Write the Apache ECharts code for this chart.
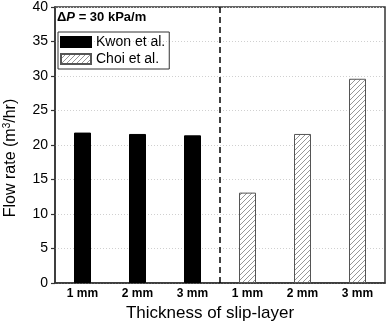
<!DOCTYPE html>
<html>
<head>
<meta charset="utf-8">
<script src="https://cdn.jsdelivr.net/npm/echarts@6/dist/echarts.min.js"></script>
<style>
  html, body { margin: 0; padding: 0; background: #fff; }
  #chart { width: 387px; height: 321px; }
</style>
</head>
<body>
<div id="chart"></div>
<script>
  // 数据
  const categories = ['1 mm', '2 mm', '3 mm', '1 mm', '2 mm', '3 mm']
  const kwonValues = [21.8, 21.6, 21.4, '-', '-', '-']
  const choiValues = ['-', '-', '-', 13.1, 21.6, 29.6]
  const yTicks = { min: 0, max: 40, interval: 5 }
  const dividerAt = 3 // 两组之间的虚线位置（类目序号）

  // 斜线填充图案
  function makeHatch () {
    const s = 5
    const c = document.createElement('canvas')
    c.width = s
    c.height = s
    const ctx = c.getContext('2d')
    ctx.fillStyle = '#fff'
    ctx.fillRect(0, 0, s, s)
    ctx.strokeStyle = '#8a8a8a'
    ctx.lineWidth = 0.9
    ctx.beginPath()
    ctx.moveTo(-1, s + 1); ctx.lineTo(s + 1, -1)
    ctx.moveTo(-1, 1); ctx.lineTo(1, -1)
    ctx.moveTo(s - 1, s + 1); ctx.lineTo(s + 1, s - 1)
    ctx.stroke()
    return c
  }
  const hatch = { image: makeHatch(), repeat: 'repeat' }

  const chart = echarts.init(document.getElementById('chart'), null, { renderer: 'canvas' })
  const font = 'Liberation Sans, Arial, sans-serif'

  const option = {
    backgroundColor: '#fff',
    animation: false,
    textStyle: { fontFamily: font },
    title: {
      text: '{a|Δ}{b|P}{a| = 30 kPa/m}',
      left: 57,
      top: 11,
      padding: 0,
      textStyle: {
        rich: {
          a: { fontSize: 13, fontWeight: 'bold', color: '#000', fontFamily: font },
          b: { fontSize: 13, fontWeight: 'bold', fontStyle: 'italic', color: '#000', fontFamily: font }
        }
      }
    },
    legend: {
      orient: 'vertical',
      left: 58,
      top: 32,
      padding: [3, 4, 3, 2],
      borderColor: '#333',
      borderWidth: 1,
      itemWidth: 30,
      itemHeight: 10,
      itemGap: 3,
      textStyle: { fontSize: 14, color: '#000', fontFamily: font },
      data: [{ name: 'Kwon et al.', icon: 'rect' }, { name: 'Choi et al.', icon: 'rect' }]
    },
    grid: {
      left: 55,
      right: 2,
      top: 7,
      bottom: 38,
      outerBoundsMode: 'none',
      show: true,
      borderColor: '#333',
      borderWidth: 1.5
    },
    xAxis: [
      {
        type: 'category',
        data: categories,
        name: 'Thickness of slip-layer',
        nameLocation: 'middle',
        nameGap: 21,
        nameTextStyle: { fontSize: 17, color: '#000', fontFamily: font, padding: [0, 20, 0, 0] },
        axisLine: { lineStyle: { color: '#333', width: 1.5 } },
        axisTick: { show: false },
        axisLabel: { fontSize: 12, fontWeight: 'bold', color: '#000', margin: 5, interval: 0 }
      },
      {
        // 隐藏的数值轴，用来画分隔虚线
        type: 'value',
        min: 0,
        max: categories.length,
        show: false
      }
    ],
    yAxis: {
      type: 'value',
      min: yTicks.min,
      max: yTicks.max,
      interval: yTicks.interval,
      name: '{n|Flow rate (m}{s|3}{n|/hr)}',
      nameLocation: 'middle',
      nameGap: 35,
      nameTextStyle: {
        padding: [0, 26, 0, 0],
        rich: {
          n: { fontSize: 16, color: '#000', fontFamily: font },
          s: { fontSize: 10, color: '#000', fontFamily: font, verticalAlign: 'top', padding: [0, 0, 8, 0] }
        }
      },
      axisLine: { show: true, lineStyle: { color: '#333', width: 1.5 } },
      axisTick: { show: true, length: 4, lineStyle: { color: '#333', width: 1.2 } },
      axisLabel: { fontSize: 14, color: '#000', margin: 7 },
      splitLine: { lineStyle: { color: '#d0d0d0', type: [1, 2], width: 1 } }
    },
    series: [
      {
        name: 'Kwon et al.',
        type: 'bar',
        data: kwonValues,
        barWidth: 17,
        barGap: '-100%',
        itemStyle: { color: '#000', borderColor: '#000', borderWidth: 1 }
      },
      {
        name: 'Choi et al.',
        type: 'bar',
        data: choiValues,
        barWidth: 17,
        itemStyle: { color: hatch, borderColor: '#555', borderWidth: 1 }
      },
      {
        name: 'divider',
        type: 'line',
        xAxisIndex: 1,
        data: [[dividerAt, yTicks.min], [dividerAt, yTicks.max]],
        symbol: 'none',
        lineStyle: { color: '#000', width: 1.5, type: [6, 4] },
        silent: true
      }
    ]
  }
  chart.setOption(option)
</script>
</body>
</html>
